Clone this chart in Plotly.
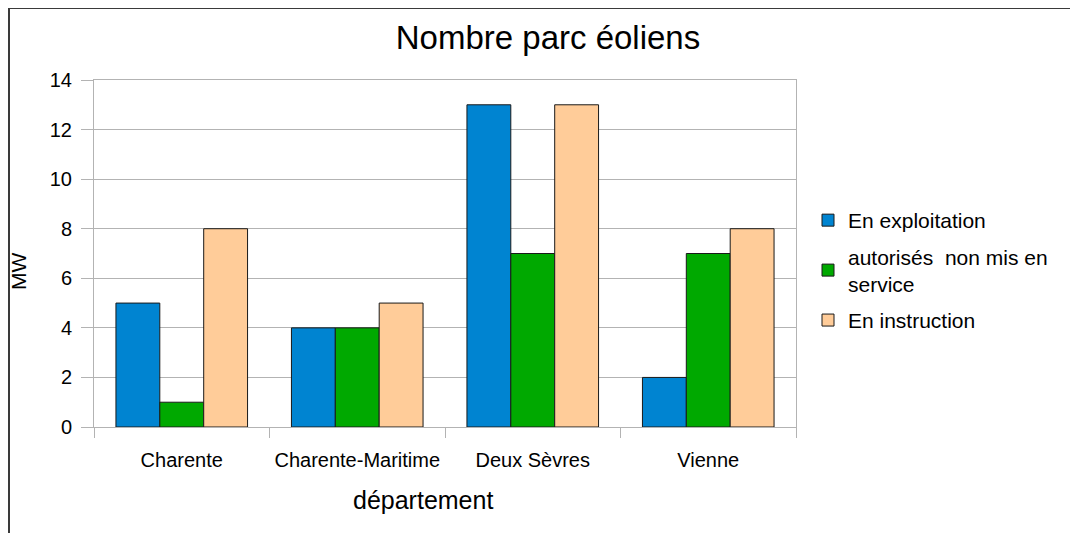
import plotly.graph_objects as go

categories = ["Charente", "Charente-Maritime", "Deux Sèvres", "Vienne"]
en_exploitation = [5, 4, 13, 2]
autorises = [1, 4, 7, 7]
en_instruction = [8, 5, 13, 8]
series_names = ["En exploitation", "autorisés  non mis en<br>service", "En instruction"]
colors = ["#0084D1", "#00A900", "#FFCC99"]
y_ticks = [0, 2, 4, 6, 8, 10, 12, 14]

# page body has an 8px margin: work in screen pixels and shift
OFF = 8
W, H = 1078 - OFF, 533 - OFF
PL, PR, PT, PB = 94, 796, 80, 427  # plot area in screen pixels
L, R, T, B = PL - OFF, W - (PR - OFF), PT - OFF, H - (PB - OFF)
pw, ph = PR - PL, PB - PT

def px_x(x):
    return (x - PL) / pw

def px_y(y):
    return (PB - y) / ph

FONT = "Liberation Sans, Arial, sans-serif"

fig = go.Figure()
for i, (name, vals, col) in enumerate(zip(series_names, [en_exploitation, autorises, en_instruction], colors)):
    fig.add_trace(go.Bar(
        x=categories, y=vals, name=name, legendgroup=f"g{i}",
        marker=dict(color=col, line=dict(color="#1a1a1a", width=1)),
    ))

fig.update_layout(
    width=W, height=H,
    margin=dict(l=L, r=R, t=T, b=B),
    paper_bgcolor="white", plot_bgcolor="white",
    barmode="group", bargap=0.25, bargroupgap=0,
    font=dict(family=FONT, size=19, color="black"),
    title=dict(text="Nombre parc éoliens", x=(548 - OFF) / W, xref="container", xanchor="center",
               y=1 - (37 - OFF) / H, yanchor="middle", font=dict(size=33, color="black")),
    legend=dict(x=px_x(808), xanchor="left", y=px_y(200), yanchor="top",
                font=dict(size=21), tracegroupgap=6, itemwidth=30,
                bgcolor="rgba(0,0,0,0)"),
    showlegend=True,
    xaxis=dict(
        range=[-0.5, 3.5], tickson="boundaries", ticks="outside", ticklen=10,
        tickcolor="#b3b3b3", showline=True, linecolor="#b3b3b3", mirror=True,
        showgrid=False, tickfont=dict(size=20), ticklabelstandoff=15,
    ),
    yaxis=dict(
        range=[0, 14], tickvals=y_ticks, ticks="outside", ticklen=12,
        tickcolor="#b3b3b3", showline=True, linecolor="#b3b3b3", mirror=True,
        showgrid=True, gridcolor="#b3b3b3", gridwidth=1, zeroline=False,
        tickfont=dict(size=20), ticklabelstandoff=5,
    ),
    annotations=[
        dict(text="MW", x=px_x(18), y=px_y(272), xref="paper", yref="paper",
             showarrow=False, textangle=-90, font=dict(size=21),
             xanchor="center", yanchor="middle"),
        dict(text="département", x=px_x(423), y=px_y(500), xref="paper", yref="paper",
             showarrow=False, font=dict(size=25), xanchor="center", yanchor="middle"),
    ],
    shapes=[
        dict(type="line", xref="paper", yref="paper", x0=px_x(9), x1=px_x(1200),
             y0=px_y(8), y1=px_y(8), line=dict(color="#3a3a3a", width=2)),
        dict(type="line", xref="paper", yref="paper", x0=px_x(9), x1=px_x(9),
             y0=px_y(8), y1=px_y(700), line=dict(color="#3a3a3a", width=2)),
    ],
)

fig.write_html("out.html")
